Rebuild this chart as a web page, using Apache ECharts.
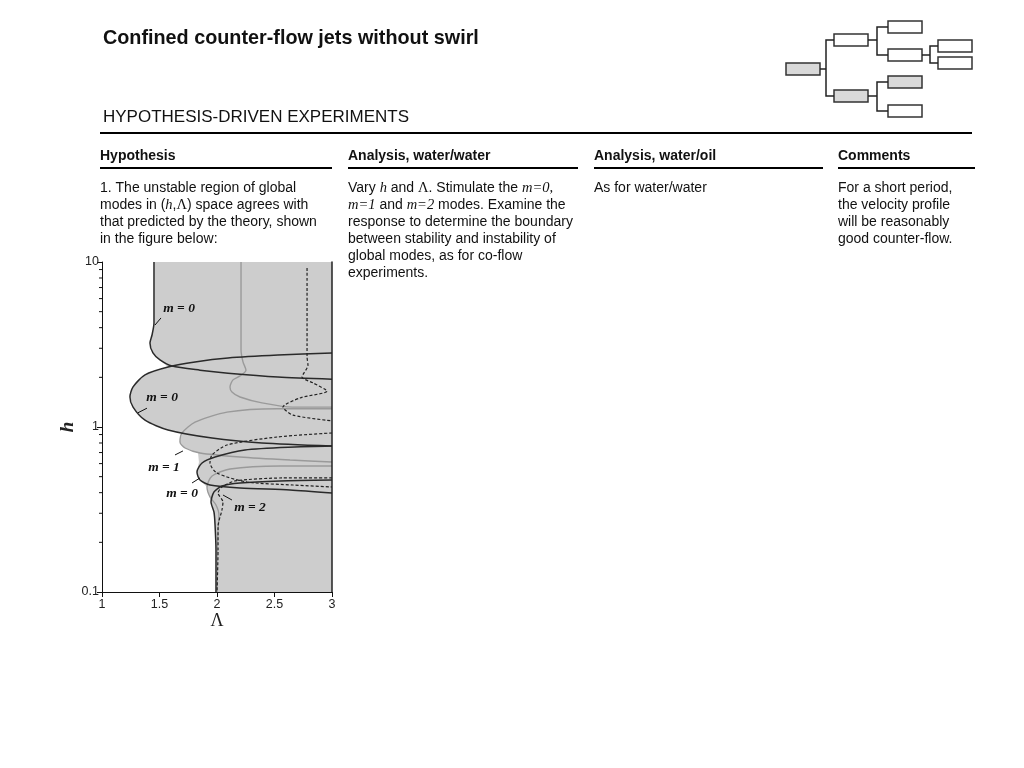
<!DOCTYPE html>
<html>
<head>
<meta charset="utf-8">
<script src="https://cdn.jsdelivr.net/npm/echarts@6/dist/echarts.min.js"></script>
<style>
  html, body { margin: 0; padding: 0; background: #fff; }
  #main { width: 1024px; height: 768px; }
</style>
</head>
<body>
<div id="main"></div>
<script>
// axis ticks
const xTickLabels = ['1', '1.5', '2', '2.5', '3'];
const yTickLabels = ['0.1', '1', '10'];
const hMinorTicks = [0.2, 0.3, 0.4, 0.5, 0.6, 0.7, 0.8, 0.9, 2, 3, 4, 5, 6, 7, 8, 9];

// neutral curves, points are [Lambda, h]
const m0Upper = [[1.452, 10], [1.452, 4.27], [1.435, 3.61], [1.417, 3.23], [1.443, 2.81], [1.504, 2.55],
  [1.609, 2.34], [1.852, 2.21], [2.096, 2.12], [2.53, 2.01], [3.0, 1.95]];
const m0Lobe = [[3.0, 2.81], [2.53, 2.73], [2.096, 2.62], [1.809, 2.48], [1.574, 2.31], [1.374, 2.07],
  [1.27, 1.75], [1.243, 1.52], [1.27, 1.32], [1.374, 1.1], [1.574, 0.959], [1.957, 0.857], [2.391, 0.8], [3.0, 0.767]];
const m0Lobe2 = [[3.0, 0.767], [2.678, 0.757], [2.243, 0.726], [1.983, 0.658], [1.87, 0.605], [1.826, 0.534],
  [1.852, 0.477], [1.939, 0.445], [2.2, 0.427], [2.635, 0.415], [3.0, 0.398]];
const m0Bottom = [[3.0, 0.477], [2.548, 0.471], [2.2, 0.458], [2.043, 0.439], [1.974, 0.404], [1.948, 0.351],
  [1.974, 0.305], [1.983, 0.255], [1.991, 0.18], [1.991, 0.1]];

const m1Upper = [[2.209, 10], [2.209, 2.93], [2.226, 2.48], [2.252, 2.21], [2.2, 2.04], [2.139, 1.93],
  [2.113, 1.75], [2.13, 1.63], [2.2, 1.52], [2.391, 1.4], [2.661, 1.32], [3.0, 1.32]];
const m1Lobe = [[3.0, 1.29], [2.522, 1.29], [2.087, 1.23], [1.809, 1.07], [1.696, 0.92], [1.678, 0.811],
  [1.722, 0.746], [1.852, 0.696], [2.2, 0.658], [2.635, 0.631], [3.0, 0.614]];
const m1Lower = [[3.0, 0.58], [2.548, 0.58], [2.113, 0.556], [1.957, 0.505], [1.913, 0.433], [1.939, 0.377],
  [1.991, 0.337], [2.017, 0.293], [2.009, 0.238], [2.0, 0.156], [2.0, 0.1]];

const m2Upper = [[2.783, 9.2], [2.783, 2.66], [2.791, 2.37], [2.739, 2.01], [2.835, 1.85], [2.957, 1.65],
  [2.722, 1.5], [2.574, 1.32], [2.661, 1.18], [3.0, 1.09]];
const m2Lobe = [[3.0, 0.92], [2.522, 0.87], [2.087, 0.778], [1.957, 0.677], [1.939, 0.605], [2.0, 0.526],
  [2.261, 0.464], [2.661, 0.445], [3.0, 0.433]];
const m2Bottom = [[3.0, 0.491], [2.565, 0.491], [2.157, 0.471], [2.043, 0.433], [2.009, 0.398], [2.052, 0.351],
  [2.043, 0.314], [2.009, 0.249], [2.009, 0.18], [2.0, 0.1]];

// unstable region (grey)
const unstableOutline = [[1.452, 10], [1.452, 4.27], [1.435, 3.61], [1.417, 3.23], [1.443, 2.81], [1.504, 2.55],
  [1.574, 2.31], [1.374, 2.07], [1.27, 1.75], [1.243, 1.52], [1.27, 1.32], [1.374, 1.1], [1.574, 0.959],
  [1.696, 0.92], [1.678, 0.811], [1.722, 0.746], [1.835, 0.696], [1.843, 0.614], [1.826, 0.534], [1.852, 0.477],
  [1.913, 0.433], [1.939, 0.377], [1.965, 0.327], [1.983, 0.255], [1.991, 0.18], [2.0, 0.1], [3.0, 0.1], [3.0, 10]];

// labels m = ..
const annoText = ['m = 0', 'm = 0', 'm = 1', 'm = 0', 'm = 2'];
const annoPos = [[1.67, 5.19], [1.522, 1.5], [1.539, 0.572], [1.696, 0.393], [2.287, 0.327]];
const annoLine = [[1.513, 4.58, 1.461, 4.15], [1.391, 1.3, 1.313, 1.22], [1.635, 0.677, 1.704, 0.716],
  [1.783, 0.458, 1.852, 0.491], [2.13, 0.361, 2.052, 0.387]];

const SANS = "'Liberation Sans', Arial, Helvetica, sans-serif";
const SERIF = "'Liberation Serif', 'Times New Roman', serif";

const chart = echarts.init(document.getElementById('main'));

const curve = (data, color, width, dashed) => ({
  type: 'line',
  data: data,
  showSymbol: false,
  symbol: 'none',
  smooth: 0.25,
  silent: true,
  lineStyle: { color: color, width: width, type: dashed ? [3, 2] : 'solid' }
});

// text on the slide
const rich = {
  i: { fontFamily: SERIF, fontStyle: 'italic', fontSize: 14.5, fill: '#111' },
  s: { fontFamily: SERIF, fontSize: 14.5, fill: '#111' }
};
const txt = (x, y, text, size, bold) => ({
  type: 'text', x: x, y: y, silent: true,
  style: {
    text: text, fontFamily: SANS, fontSize: size, fontWeight: bold ? 'bold' : 'normal',
    fill: '#111', verticalAlign: 'middle', rich: rich
  }
});
const col1 = ['1. The unstable region of global', 'modes in ({i|h},{s|Λ}) space agrees with',
  'that predicted by the theory, shown', 'in the figure below:'];
const col2 = ['Vary {i|h} and {s|Λ}. Stimulate the {i|m=0,}', '{i|m=1} and {i|m=2} modes. Examine the',
  'response to determine the boundary', 'between stability and instability of',
  'global modes, as for co-flow', 'experiments.'];
const col3 = ['As for water/water'];
const col4 = ['For a short period,', 'the velocity profile', 'will be reasonably', 'good counter-flow.'];

const graphics = [
  txt(103, 39, 'Confined counter-flow jets without swirl', 19.8, true),
  txt(103, 117, 'HYPOTHESIS-DRIVEN EXPERIMENTS', 17, false),
  { type: 'rect', shape: { x: 100, y: 132, width: 872, height: 2 }, style: { fill: '#000' } },
  txt(100, 156, 'Hypothesis', 14, true),
  txt(348, 156, 'Analysis, water/water', 14, true),
  txt(594, 156, 'Analysis, water/oil', 14, true),
  txt(838, 156, 'Comments', 14, true),
  { type: 'rect', shape: { x: 100, y: 167, width: 232, height: 2 }, style: { fill: '#000' } },
  { type: 'rect', shape: { x: 348, y: 167, width: 230, height: 2 }, style: { fill: '#000' } },
  { type: 'rect', shape: { x: 594, y: 167, width: 229, height: 2 }, style: { fill: '#000' } },
  { type: 'rect', shape: { x: 838, y: 167, width: 137, height: 2 }, style: { fill: '#000' } }
];
[[100, col1], [348, col2], [594, col3], [838, col4]].forEach(([x, lines]) => {
  lines.forEach((l, k) => graphics.push(txt(x, 188 + k * 17, l, 14, false)));
});

// little tree in the corner
const boxes = [[786, 63, 1], [834, 34, 0], [834, 90, 1], [888, 21, 0], [888, 49, 0],
  [938, 40, 0], [938, 57, 0], [888, 76, 1], [888, 105, 0]];
boxes.forEach(b => graphics.push({
  type: 'rect', shape: { x: b[0], y: b[1], width: 34, height: 12 },
  style: { fill: b[2] ? '#d9d9d9' : '#fff', stroke: '#333', lineWidth: 1.5 }
}));
const links = [
  [[820, 69], [826, 69]], [[834, 40], [826, 40], [826, 96], [834, 96]],
  [[868, 40], [877, 40]], [[888, 27], [877, 27], [877, 55], [888, 55]],
  [[868, 96], [877, 96]], [[888, 82], [877, 82], [877, 111], [888, 111]],
  [[922, 55], [930, 55]], [[938, 46], [930, 46], [930, 63], [938, 63]]
];
links.forEach(p => graphics.push({
  type: 'polyline', shape: { points: p }, style: { stroke: '#222', lineWidth: 1.5, fill: null }
}));

chart.setOption({
  animation: false,
  backgroundColor: '#fff',
  graphic: graphics,
  grid: { left: 102, top: 262, width: 230, height: 330, outerBoundsMode: 'none', containLabel: false },
  xAxis: {
    type: 'value', min: 1, max: 3, interval: 0.5, z: 10,
    name: 'Λ', nameLocation: 'middle', nameGap: 18,
    nameTextStyle: { fontFamily: SERIF, fontSize: 18, color: '#222' },
    axisLine: { show: true, lineStyle: { color: '#111', width: 1 } },
    axisTick: { show: true, inside: false, length: 5, lineStyle: { color: '#111' } },
    axisLabel: {
      fontFamily: SANS, fontSize: 12.5, color: '#222', margin: 6,
      formatter: v => xTickLabels.find(s => Number(s) === v) || ''
    },
    splitLine: { show: false }
  },
  yAxis: [{
    type: 'log', logBase: 10, min: 0.1, max: 10, z: 10,
    name: 'h', nameLocation: 'middle', nameGap: 21, nameRotate: 90,
    nameTextStyle: { fontFamily: SERIF, fontSize: 19, fontStyle: 'italic', fontWeight: 'bold', color: '#222' },
    axisLine: { show: true, lineStyle: { color: '#111', width: 1 } },
    axisTick: { show: true, inside: false, length: 5, lineStyle: { color: '#111' } },
    axisLabel: {
      fontFamily: SANS, fontSize: 12.5, color: '#222', margin: 3,
      formatter: v => yTickLabels.find(s => Math.abs(Number(s) - v) < 1e-9) || ''
    },
    splitLine: { show: false }
  }, {
    type: 'log', logBase: 10, min: 0.1, max: 10, position: 'right', z: 10,
    axisLine: { show: true, lineStyle: { color: '#222', width: 1.5 } },
    axisTick: { show: false }, axisLabel: { show: false }, splitLine: { show: false }
  }],
  series: [
    {
      // grey unstable region
      type: 'custom', silent: true, z: 1,
      data: [unstableOutline[0]],
      renderItem: (params, api) => ({
        type: 'polygon',
        shape: { points: unstableOutline.map(p => api.coord(p)) },
        style: { fill: '#cdcdcd' }
      })
    },
    {
      // minor ticks on the log axis
      type: 'custom', silent: true, z: 11,
      data: hMinorTicks.map(v => [1, v]),
      renderItem: (params, api) => {
        const p = api.coord([api.value(0), api.value(1)]);
        return { type: 'line', shape: { x1: p[0] - 3, y1: p[1], x2: p[0], y2: p[1] }, style: { stroke: '#111', lineWidth: 1 } };
      }
    },
    curve(m1Upper, '#9a9a9a', 1.4, false),
    curve(m1Lobe, '#9a9a9a', 1.4, false),
    curve(m1Lower, '#9a9a9a', 1.4, false),
    curve(m0Upper, '#2a2a2a', 1.5, false),
    curve(m0Lobe, '#2a2a2a', 1.5, false),
    curve(m0Lobe2, '#2a2a2a', 1.5, false),
    curve(m0Bottom, '#2a2a2a', 1.5, false),
    curve(m2Upper, '#222', 1.2, true),
    curve(m2Lobe, '#222', 1.2, true),
    curve(m2Bottom, '#222', 1.2, true),
    {
      // m = .. labels with pointer strokes
      type: 'custom', silent: true, z: 12,
      data: annoPos,
      renderItem: (params, api) => {
        const i = params.dataIndex;
        const p = api.coord([api.value(0), api.value(1)]);
        const a = api.coord(annoLine[i].slice(0, 2));
        const b = api.coord(annoLine[i].slice(2, 4));
        return {
          type: 'group',
          children: [
            { type: 'text', x: p[0], y: p[1],
              style: { text: annoText[i], fontFamily: SERIF, fontSize: 13.5, fontStyle: 'italic', fontWeight: 'bold',
                fill: '#111', align: 'center', verticalAlign: 'middle' } },
            { type: 'line', shape: { x1: a[0], y1: a[1], x2: b[0], y2: b[1] }, style: { stroke: '#111', lineWidth: 1 } }
          ]
        };
      }
    }
  ]
});
</script>
</body>
</html>
